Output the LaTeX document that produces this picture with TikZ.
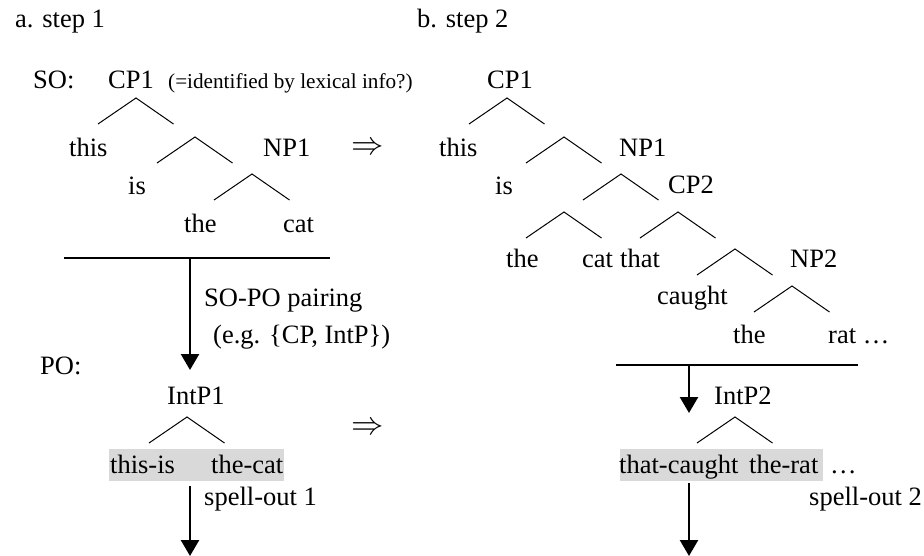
\documentclass[tikz,border=0pt]{standalone}
\usepackage{fontspec}
\setmainfont{Liberation Serif}
\usetikzlibrary{arrows.meta}
\definecolor{boxgray}{HTML}{D9D9D9}
\begin{document}
\begin{tikzpicture}[x=1pt,y=-1pt,
  txt/.style={inner sep=0pt, anchor=base west, font=\fontsize{26.5}{30}\selectfont},
  smalltxt/.style={inner sep=0pt, anchor=base west, font=\fontsize{21.2}{25}\selectfont},
  implies/.style={inner sep=0pt, anchor=center, font=\fontsize{24.88}{30}\selectfont},
  branch/.style={line width=1pt},
  rulebar/.style={line width=2.2pt},
  flow/.style={line width=2.5pt, -{Triangle[width=18pt,length=16pt]}},
  shade/.style={fill=boxgray, draw=none},
  fork/.pic={\draw[branch] (-38,26) -- (0,0) -- (37.5,26);}]
\useasboundingbox (0,0) rectangle (924,556);

% ---------- highlight boxes ----------
\fill[shade] (109,449) rectangle (284,481);
\fill[shade] (620,449) rectangle (823,481);

% ---------- a. step 1 ----------
\node[txt] (ha) at (15,28) {a. step 1};
\node[txt] (so) at (33,89) {SO:};
\node[txt] (acp1) at (108,89) {CP1};
\node[smalltxt] (note) at (168,89) {(=identified by lexical info?)};
\node[txt] (athis) at (69,157) {this};
\node[txt] (anp1) at (263,157) {NP1};
\node[txt] (ais) at (128,195) {is};
\node[txt] (athe) at (184,233) {the};
\node[txt] (acat) at (283,233) {cat};
\pic at (136,98) {fork};
\pic at (195,137) {fork};
\pic at (252,174) {fork};

\node[implies] (imp1) at (367.5,149) {\scalebox{1.3}{$\Rightarrow$}};

\coordinate (la) at (64,258);
\coordinate (ra) at (330,258);
\coordinate (ma) at (190,258);
\coordinate (ta) at (190,370);
\draw[rulebar] (la) -- (ra);
\draw[flow] (ma) -- (ta);
\node[txt] (pair) at (204,306) {SO-PO pairing};
\node[txt] (eg) at (213,343) {(e.g. \{CP, IntP\})};
\node[txt] (po) at (40,374) {PO:};
\node[txt] (intp1) at (167,404) {IntP1};
\pic at (187,417) {fork};
\node[txt] (thisis) at (110,473) {this-is};
\node[txt] (thecat) at (211,473) {the-cat};
\node[implies] (imp2) at (367.5,429) {\scalebox{1.3}{$\Rightarrow$}};
\coordinate (sa) at (190,486);
\coordinate (ea) at (190,556);
\draw[flow] (sa) -- (ea);
\node[txt] (so1) at (204,505) {spell-out 1};

% ---------- b. step 2 ----------
\node[txt] (hb) at (417,28) {b. step 2};
\node[txt] (bcp1) at (487,89) {CP1};
\node[txt] (bthis) at (439,157) {this};
\node[txt] (bnp1) at (619,157) {NP1};
\node[txt] (bis) at (495,195) {is};
\node[txt] (bcp2) at (668,194) {CP2};
\node[txt] (bthe) at (506,268) {the};
\node[txt] (bcat) at (582,268) {cat};
\node[txt] (bthat) at (620,268) {that};
\node[txt] (bnp2) at (790,268) {NP2};
\node[txt] (bcaught) at (657,305) {caught};
\node[txt] (bthe2) at (733,343) {the};
\node[txt] (brat) at (828,343) {rat …};
\pic at (507,98) {fork};
\pic at (564,137) {fork};
\pic at (621,174) {fork};
\pic at (564,212) {fork};
\pic at (678,212) {fork};
\pic at (735,249) {fork};
\pic at (792,286) {fork};

\coordinate (lb) at (616,365);
\coordinate (rb) at (858,365);
\coordinate (mb) at (689,365);
\coordinate (tb) at (689,413);
\draw[rulebar] (lb) -- (rb);
\draw[flow] (mb) -- (tb);
\node[txt] (intp2) at (714,404) {IntP2};
\pic at (735,417) {fork};
\node[txt] (thatcaught) at (619,473) {that-caught};
\node[txt] (therat) at (749,473) {the-rat};
\node[txt] (dots) at (830,473) {…};
\coordinate (sb) at (689,483);
\coordinate (eb) at (689,556);
\draw[flow] (sb) -- (eb);
\node[txt] (so2) at (809,505) {spell-out 2};
\end{tikzpicture}
\end{document}
